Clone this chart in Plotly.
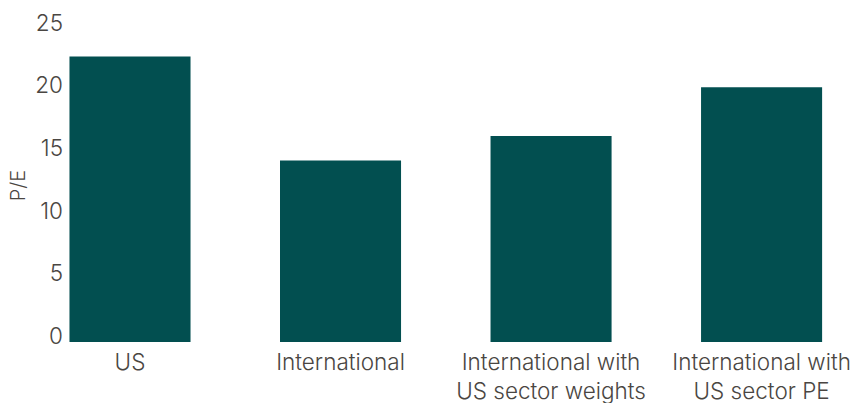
import plotly.graph_objects as go

categories = ["US", "International", "International with<br>US sector weights", "International with<br>US sector PE"]
pe_values = [22.8, 14.5, 16.45, 20.35]
y_ticks = [0, 5, 10, 15, 20, 25]

fig = go.Figure(go.Bar(
    x=list(range(len(categories))),
    y=pe_values,
    marker=dict(color="#024f50", line=dict(width=0)),
    width=0.575,
))

font_family = "Inter, Lato, 'Open Sans', sans-serif"
text_color = "#4a4642"
fsize = 22.5

fig.update_layout(
    width=854, height=403,
    margin=dict(l=66, r=0, t=29, b=61),
    paper_bgcolor="white", plot_bgcolor="white",
    showlegend=False,
    font=dict(family=font_family, size=fsize, color=text_color, weight=300),
    xaxis=dict(
        range=[-0.304, 3.439],
        automargin=False,
        tickmode="array",
        tickvals=list(range(len(categories))),
        ticktext=categories,
        showgrid=False, zeroline=False, showline=False,
        ticks="",
        ticklabelstandoff=4,
        tickfont=dict(size=fsize, color=text_color, family=font_family, weight=300),
    ),
    yaxis=dict(
        range=[0, 25],
        automargin=False,
        tickmode="array",
        tickvals=y_ticks,
        showgrid=False, zeroline=False, showline=False,
        ticks="",
        ticklabelshift=-6,
        ticklabelstandoff=2,
        tickfont=dict(size=fsize, color=text_color, family=font_family, weight=300),
        title=dict(text="P/E", font=dict(size=20, color=text_color, family=font_family, weight=300), standoff=4),
    ),
)

fig.write_html(
    "out.html",
    config={"displayModeBar": False},
    post_script="document.body.style.margin='0';document.body.style.overflow='hidden';",
)
